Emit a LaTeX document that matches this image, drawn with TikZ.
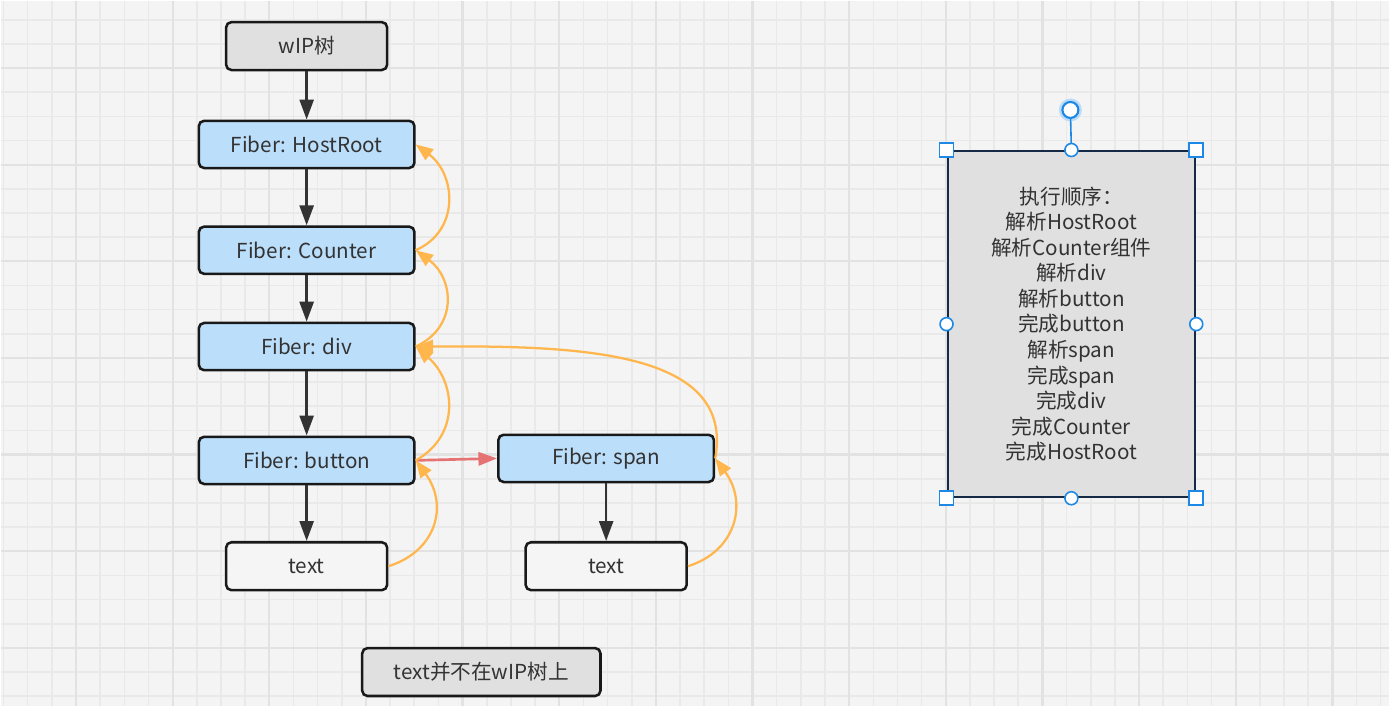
\documentclass[tikz,border=0pt]{standalone}
\usepackage{fontspec}
\setmainfont{Noto Sans CJK SC}
\usetikzlibrary{arrows.meta,positioning,calc}
\definecolor{ink}{RGB}{51,51,51}
\definecolor{paper}{RGB}{244,244,244}
\definecolor{gridthin}{RGB}{233,233,233}
\definecolor{gridthick}{RGB}{226,226,226}
\definecolor{fiberblue}{RGB}{187,222,251}
\definecolor{boxgray}{RGB}{224,224,224}
\definecolor{backorange}{RGB}{255,183,77}
\definecolor{siblingred}{RGB}{229,115,115}
\definecolor{selblue}{RGB}{30,136,229}
\definecolor{framenavy}{RGB}{22,42,72}

\begin{document}
\begin{tikzpicture}[x=0.75pt,y=-0.75pt,
  label font/.style={font=\fontsize{15.5pt}{19.2pt}\selectfont, text=ink},
  fiber/.style={rectangle,draw=black!90,line width=1.9pt,rounded corners=4pt,fill=fiberblue,
    minimum width=162pt,minimum height=35.5pt,inner sep=0pt,label font},
  plain/.style={rectangle,draw=black!90,line width=1.9pt,rounded corners=4pt,fill=white!96!black,
    minimum width=121pt,minimum height=36pt,inner sep=0pt,label font},
  greybox/.style={plain,fill=boxgray},
  tree/.style={-{Triangle[length=15pt,width=10.5pt]},draw=ink,line width=2pt},
  back/.style={-{Triangle[length=13pt,width=10pt]},draw=backorange,line width=1.7pt},
  sibling/.style={-{Triangle[length=14pt,width=10pt]},draw=siblingred,line width=2pt},
  handle/.style={draw=selblue,fill=white,line width=1.2pt}]

  % Background and grid
  \fill[paper] (0,0) rectangle (1390,706);
  \foreach \i in {0,...,57} {
    \draw[gridthin,line width=1.2pt] ({2.4+24.2*\i},0) -- ++(0,706);
  }
  \foreach \i in {0,...,28} {
    \draw[gridthin,line width=1.2pt] (0,{18.6+24.2*\i}) -- ++(1390,0);
  }
  \foreach \i in {0,...,13} {
    \draw[gridthick,line width=1.7pt] ({75+96.8*\i},0) -- ++(0,706);
  }
  \foreach \i in {0,...,6} {
    \draw[gridthick,line width=1.7pt] (0,{67+96.8*\i}) -- ++(1390,0);
  }

  % wIP tree
  \node[greybox] (wip) at (306,45) {wIP树};
  \node[fiber] (root) at (306,143.5) {Fiber: HostRoot};
  \node[fiber] (counter) at (306,249.5) {Fiber: Counter};
  \node[fiber] (div) at (306,346) {Fiber: div};
  \node[fiber] (button) at (306,460) {Fiber: button};
  \node[fiber] (span) at (606,458) {Fiber: span};
  \node[plain] (text1) at (306,566) {text};
  \node[plain] (text2) at (606,566) {text};
  \node[greybox,minimum width=179pt] (note) at (481,672) {text并不在wIP树上};

  % Child links
  \draw[tree] (wip) -- (root);
  \draw[tree] (root) -- (counter);
  \draw[tree] (counter) -- (div);
  \draw[tree] (div) -- (button);
  \draw[tree] (button) -- (text1);
  \draw[tree] (span) -- (text2);

  % Sibling link
  \draw[sibling] (button.east) -- (span.west);

  % Return links
  \draw[back] (counter.east) .. controls +(45,-20) and +(40,30) .. (root.east);
  \draw[back] (div.east) .. controls +(43,-20) and +(38,28) .. (counter.east);
  \draw[back] (button.east) .. controls +(45,-25) and +(40,35) .. (div.east);
  \draw[back] (text1.east) .. controls +(48,-15) and +(33,45) .. (button.east);
  \draw[back] (text2.east) .. controls +(48,-15) and +(33,45) .. (span.east);
  \draw[back] (span.east) .. controls (735,350) and (580,345) .. (div.east);

  % Execution order
  \node[rectangle,draw=framenavy,line width=1.6pt,fill=boxgray,minimum width=186pt,
    minimum height=260pt,inner sep=0pt,label font,align=center] (order) at (1072,323.5)
    {执行顺序：\\解析HostRoot\\解析Counter组件\\解析div\\解析button\\完成button\\解析span\\完成span\\完成div\\完成Counter\\完成HostRoot};

  % Selection handles
  \coordinate (rot) at (1071,109);
  \fill[selblue!30] (rot) circle (11.5);
  \draw[selblue,line width=1.2pt] (rot) -- (order.north);
  \draw[handle,line width=1.6pt] (rot) circle (8);
  \foreach \a in {north,south,east,west} {
    \draw[handle] (order.\a) circle (6.5);
  }
  \foreach \a in {north east,north west,south east,south west} {
    \draw[handle] ($(order.\a)+(-7,-7)$) rectangle ++(14,14);
  }
\end{tikzpicture}
\end{document}
